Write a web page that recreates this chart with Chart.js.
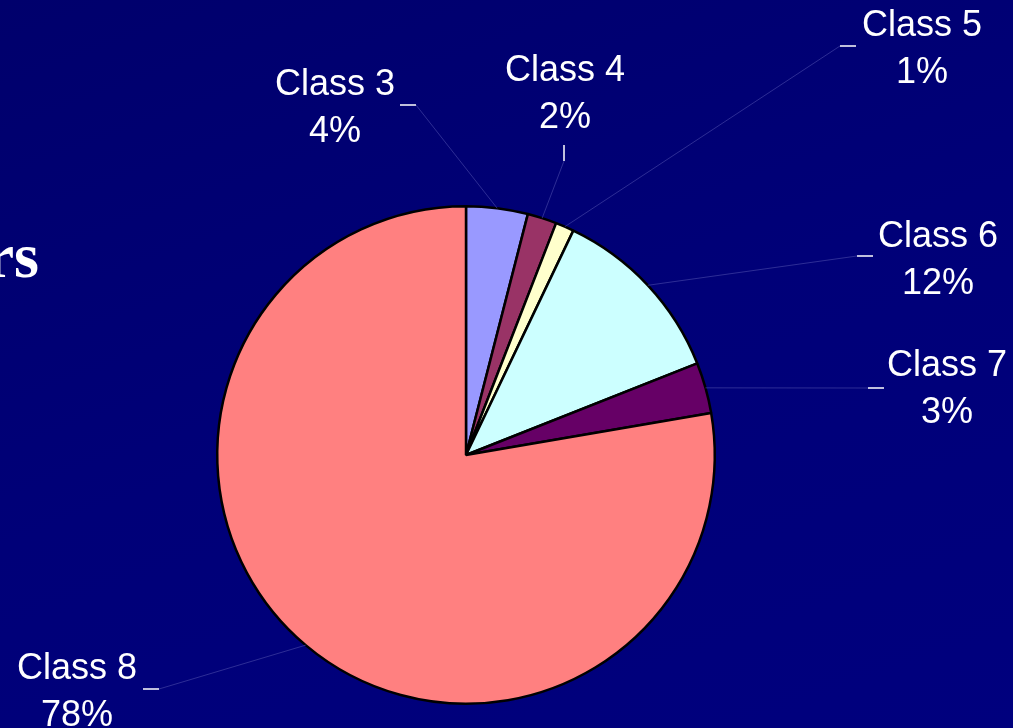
<!DOCTYPE html>
<html>
<head>
<meta charset="utf-8">
<script src="https://cdn.jsdelivr.net/npm/chart.js@4/dist/chart.umd.min.js"></script>
<style>
    html, body { margin: 0; padding: 0; }
    body {
        width: 1013px; height: 728px; overflow: hidden;
        background: linear-gradient(160deg, #00006c 0%, #000078 50%, #00007e 100%);
    }
    #chartPie { display: block; }
</style>
</head>
<body>
<canvas id="chartPie" width="1013" height="728"></canvas>
<script>
// Datos del grafico
const clases = ['Class 3', 'Class 4', 'Class 5', 'Class 6', 'Class 7', 'Class 8'];
const porcentajes = [4.0, 1.9, 1.2, 11.9, 3.3, 77.7];
const etiquetas = ['4%', '2%', '1%', '12%', '3%', '78%'];
const colores = ['#9999ff', '#993366', '#ffffcc', '#ccffff', '#660066', '#ff8080'];

// donde va cada etiqueta (centro del texto, baseline de la 1a linea) y su marca blanca
const posEtiquetas = [
    { x: 335, y: 95,  tick: [400, 105, 416, 105], from: [416, 105] },
    { x: 565, y: 81,  tick: [564, 145, 564, 161], from: [564, 161] },
    { x: 922, y: 36,  tick: [840, 46, 856, 46],   from: [840, 46] },
    { x: 938, y: 247, tick: [857, 256, 873, 256], from: [857, 256] },
    { x: 947, y: 376, tick: [868, 388, 884, 388], from: [868, 388] },
    { x: 77,  y: 679, tick: [143, 689, 159, 689], from: [159, 689] }
];

const labelsPlugin = {
    id: 'labelsPlugin',
    afterDraw(chart) {
        const ctx = chart.ctx;
        const arcs = chart.getDatasetMeta(0).data;
        ctx.save();

        // titulo cortado a la izquierda
        ctx.fillStyle = '#ffffff';
        ctx.font = 'bold 64px "Liberation Serif", "Times New Roman", serif';
        ctx.textAlign = 'right';
        ctx.textBaseline = 'alphabetic';
        ctx.fillText('rs', 39, 277);

        arcs.forEach((arc, i) => {
            const p = posEtiquetas[i];
            const mid = (arc.startAngle + arc.endAngle) / 2;
            const ex = arc.x + Math.cos(mid) * arc.outerRadius;
            const ey = arc.y + Math.sin(mid) * arc.outerRadius;

            // linea guia
            ctx.strokeStyle = 'rgba(60, 60, 160, 0.75)';
            ctx.lineWidth = 1;
            ctx.beginPath();
            ctx.moveTo(p.from[0], p.from[1]);
            ctx.lineTo(ex, ey);
            ctx.stroke();

            // marca blanca
            ctx.strokeStyle = '#ffffff';
            ctx.lineWidth = 1.5;
            ctx.beginPath();
            ctx.moveTo(p.tick[0], p.tick[1]);
            ctx.lineTo(p.tick[2], p.tick[3]);
            ctx.stroke();

            // texto
            ctx.fillStyle = '#ffffff';
            ctx.font = '36px "Liberation Sans", Arial, sans-serif';
            ctx.textAlign = 'center';
            ctx.fillText(clases[i], p.x, p.y);
            ctx.fillText(etiquetas[i], p.x, p.y + 47);
        });
        ctx.restore();
    }
};

const ctx = document.getElementById('chartPie').getContext('2d');
const chart = new Chart(ctx, {
    type: 'pie',
    data: {
        labels: clases,
        datasets: [{
            data: porcentajes,
            backgroundColor: colores,
            borderColor: '#000000',
            borderWidth: 2.5
        }]
    },
    options: {
        responsive: false,
        animation: false,
        layout: {
            padding: { left: 216, right: 297, top: 205, bottom: 23 }
        },
        plugins: {
            legend: { display: false },
            tooltip: { enabled: false },
            title: { display: false }
        }
    },
    plugins: [labelsPlugin]
});
</script>
</body>
</html>
